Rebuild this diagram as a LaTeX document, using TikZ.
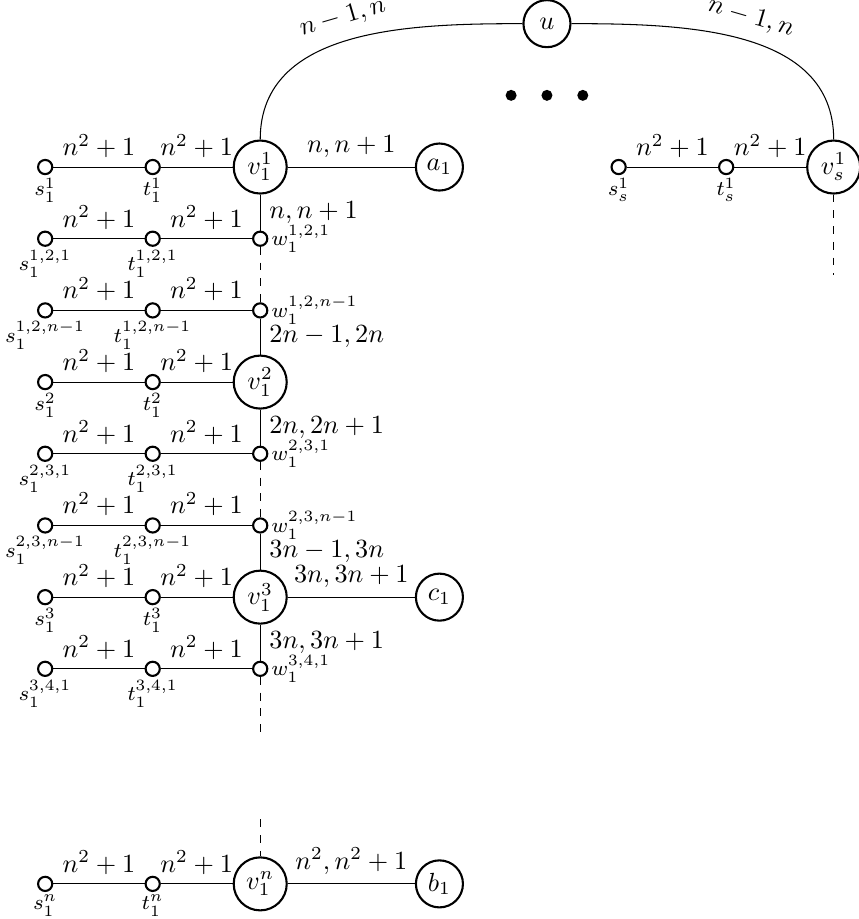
\documentclass[tikz,border=0pt]{standalone}
\usepackage{tikz}

\begin{document}
\begin{tikzpicture}[x=0.96cm, y=0.96cm,
	bignode/.style={circle, draw, thick, minimum size=0.71cm, inner sep=0pt},
	endnode/.style={circle, draw, thick, minimum size=0.63cm, inner sep=0pt},
	smallnode/.style={circle, draw, thick, minimum size=0.19cm, inner sep=0pt},
	lab/.style={font=\footnotesize, inner sep=1pt}]
	\useasboundingbox (-3.63,-10.49) rectangle (8.35,2.33);

	\node[endnode] (u) at (4,2) {$u$};
	\fill (3.5,1) circle (2.1pt) (4,1) circle (2.1pt) (4.5,1) circle (2.1pt);

	\node[bignode] (v11) at (0,0) {$v_1^1$};
	\node[bignode] (v12) at (0,-3) {$v_1^2$};
	\node[bignode] (v13) at (0,-6) {$v_1^3$};
	\node[bignode] (v1n) at (0,-10) {$v_1^n$};
	\node[bignode] (vs1) at (8,0) {$v_s^1$};
	\node[endnode] (a1) at (2.5,0) {$a_1$};
	\node[endnode] (c1) at (2.5,-6) {$c_1$};
	\node[endnode] (b1) at (2.5,-10) {$b_1$};

	\node[smallnode, label={[lab]right:$w_1^{1,2,1}$}] (w121) at (0,-1) {};
	\node[smallnode, label={[lab]right:$w_1^{1,2,n-1}$}] (w12n) at (0,-2) {};
	\node[smallnode, label={[lab]right:$w_1^{2,3,1}$}] (w231) at (0,-4) {};
	\node[smallnode, label={[lab]right:$w_1^{2,3,n-1}$}] (w23n) at (0,-5) {};
	\node[smallnode, label={[lab]right:$w_1^{3,4,1}$}] (w341) at (0,-7) {};

	\node[smallnode, label={[lab]below:$s_1^1$}] (s11) at (-3,0) {};
	\node[smallnode, label={[lab]below:$t_1^1$}] (t11) at (-1.5,0) {};
	\node[smallnode, label={[lab]below:$s_1^{1,2,1}$}] (s121) at (-3,-1) {};
	\node[smallnode, label={[lab]below:$t_1^{1,2,1}$}] (t121) at (-1.5,-1) {};
	\node[smallnode, label={[lab]below:$s_1^{1,2,n-1}$}] (s12n) at (-3,-2) {};
	\node[smallnode, label={[lab]below:$t_1^{1,2,n-1}$}] (t12n) at (-1.5,-2) {};
	\node[smallnode, label={[lab]below:$s_1^2$}] (s12) at (-3,-3) {};
	\node[smallnode, label={[lab]below:$t_1^2$}] (t12) at (-1.5,-3) {};
	\node[smallnode, label={[lab]below:$s_1^{2,3,1}$}] (s231) at (-3,-4) {};
	\node[smallnode, label={[lab]below:$t_1^{2,3,1}$}] (t231) at (-1.5,-4) {};
	\node[smallnode, label={[lab]below:$s_1^{2,3,n-1}$}] (s23n) at (-3,-5) {};
	\node[smallnode, label={[lab]below:$t_1^{2,3,n-1}$}] (t23n) at (-1.5,-5) {};
	\node[smallnode, label={[lab]below:$s_1^3$}] (s13) at (-3,-6) {};
	\node[smallnode, label={[lab]below:$t_1^3$}] (t13) at (-1.5,-6) {};
	\node[smallnode, label={[lab]below:$s_1^{3,4,1}$}] (s341) at (-3,-7) {};
	\node[smallnode, label={[lab]below:$t_1^{3,4,1}$}] (t341) at (-1.5,-7) {};
	\node[smallnode, label={[lab]below:$s_1^n$}] (s1n) at (-3,-10) {};
	\node[smallnode, label={[lab]below:$t_1^n$}] (t1n) at (-1.5,-10) {};
	\node[smallnode, label={[lab]below:$s_s^1$}] (ss1) at (5,0) {};
	\node[smallnode, label={[lab]below:$t_s^1$}] (ts1) at (6.5,0) {};

	\coordinate (gapa) at (0,-7.9);
	\coordinate (gapb) at (0,-9.1);
	\coordinate (vsend) at (8,-1.5);

	\draw (v11) to[out=90, in=180] node[sloped, midway, above=1pt] {$n-1,n$} (u);
	\draw (u) to[out=0, in=90] node[sloped, midway, above=1pt] {$n-1,n$} (vs1);

	\draw (s11) -- node[above] {$n^2+1$} (t11) -- node[above] {$n^2+1$} (v11) -- node[above] {$n,n+1$} (a1);
	\draw (s121) -- node[above] {$n^2+1$} (t121) -- node[above] {$n^2+1$} (w121);
	\draw (s12n) -- node[above] {$n^2+1$} (t12n) -- node[above] {$n^2+1$} (w12n);
	\draw (s12) -- node[above] {$n^2+1$} (t12) -- node[above] {$n^2+1$} (v12);
	\draw (s231) -- node[above] {$n^2+1$} (t231) -- node[above] {$n^2+1$} (w231);
	\draw (s23n) -- node[above] {$n^2+1$} (t23n) -- node[above] {$n^2+1$} (w23n);
	\draw (s13) -- node[above] {$n^2+1$} (t13) -- node[above] {$n^2+1$} (v13) -- node[above] {$3n,3n+1$} (c1);
	\draw (s341) -- node[above] {$n^2+1$} (t341) -- node[above] {$n^2+1$} (w341);
	\draw (s1n) -- node[above] {$n^2+1$} (t1n) -- node[above] {$n^2+1$} (v1n) -- node[above] {$n^2,n^2+1$} (b1);
	\draw (ss1) -- node[above] {$n^2+1$} (ts1) -- node[above] {$n^2+1$} (vs1);

	\draw (v11) -- node[right] {$n,n+1$} (w121);
	\draw[dashed] (w121) -- (w12n);
	\draw (w12n) -- node[right] {$2n-1,2n$} (v12);
	\draw (v12) -- node[right] {$2n,2n+1$} (w231);
	\draw[dashed] (w231) -- (w23n);
	\draw (w23n) -- node[right] {$3n-1,3n$} (v13);
	\draw (v13) -- node[right] {$3n,3n+1$} (w341);
	\draw[dashed] (w341) -- (gapa);
	\draw[dashed] (gapb) -- (v1n);
	\draw[dashed] (vs1) -- (vsend);
\end{tikzpicture}
\end{document}
